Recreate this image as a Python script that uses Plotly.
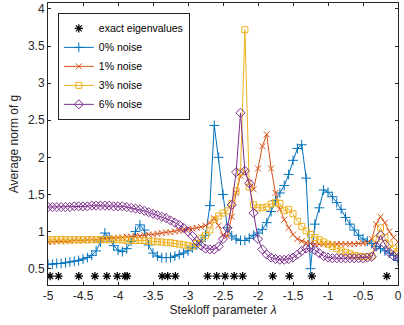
import numpy as np
import plotly.graph_objects as go

# Stekloff parameter grid
lam = np.linspace(-5, 0, 81)

noise0 = [0.56,0.56,0.57,0.57,0.58,0.59,0.60,0.61,0.63,0.65,
          0.68,0.74,0.86,0.98,0.92,0.81,0.75,0.73,0.77,0.87,
          1.00,1.09,1.02,0.82,0.71,0.67,0.65,0.65,0.65,0.67,
          0.69,0.71,0.74,0.78,0.82,0.87,0.95,1.35,2.43,2.00,
          1.50,1.05,0.94,0.90,0.88,0.88,0.91,0.95,0.98,1.03,
          1.12,1.27,1.42,1.52,1.62,1.77,1.96,2.12,2.17,1.72,
          0.50,1.10,1.32,1.56,1.53,1.47,1.39,1.30,1.19,1.10,
          1.02,0.95,0.90,0.87,0.84,0.80,0.77,0.74,0.71,0.68,
          0.61]

noise1 = [0.86,0.86,0.87,0.87,0.87,0.87,0.88,0.88,0.88,0.89,
          0.89,0.89,0.90,0.90,0.91,0.91,0.92,0.92,0.93,0.93,
          0.94,0.94,0.95,0.96,0.96,0.97,0.98,0.99,0.99,1.00,
          1.01,1.02,1.03,1.04,1.05,1.06,1.08,1.12,1.18,1.08,
          0.95,0.94,1.20,1.52,1.75,1.80,1.66,1.57,1.85,2.15,
          2.31,1.85,1.52,1.30,1.16,1.05,0.96,0.90,0.87,0.85,
          0.84,0.83,0.83,0.83,0.83,0.83,0.83,0.83,0.83,0.83,
          0.83,0.84,0.84,0.85,0.90,1.10,1.20,1.12,1.00,0.92,
          0.86]

noise3 = [0.89,0.89,0.89,0.89,0.89,0.89,0.89,0.89,0.89,0.89,
          0.89,0.89,0.89,0.89,0.89,0.89,0.89,0.89,0.88,0.88,
          0.88,0.88,0.88,0.87,0.87,0.86,0.86,0.85,0.85,0.84,
          0.83,0.82,0.81,0.80,0.84,0.91,0.95,1.02,1.16,1.21,
          1.25,1.28,1.38,1.55,1.80,3.72,1.60,1.36,1.32,1.32,
          1.33,1.37,1.39,1.38,1.28,1.30,1.24,1.14,1.07,1.01,
          0.96,0.92,0.89,0.86,0.83,0.80,0.77,0.74,0.72,0.70,
          0.68,0.67,0.66,0.66,0.67,0.90,1.05,0.92,0.83,0.77,
          0.73]

noise6 = [1.33,1.33,1.33,1.33,1.33,1.33,1.34,1.34,1.34,1.34,
          1.35,1.35,1.35,1.35,1.35,1.34,1.34,1.34,1.33,1.32,
          1.31,1.30,1.28,1.26,1.24,1.22,1.20,1.18,1.15,1.12,
          1.09,1.05,1.00,0.94,0.87,0.81,0.77,0.76,0.76,0.80,
          0.90,1.05,1.36,1.80,2.60,1.82,1.65,1.25,0.90,0.76,
          0.69,0.65,0.63,0.62,0.62,0.63,0.65,0.69,0.74,0.77,
          0.78,0.75,0.71,0.67,0.65,0.64,0.64,0.64,0.64,0.64,
          0.64,0.64,0.64,0.65,0.66,0.80,0.95,0.83,0.72,0.67,
          0.65]

exact_eigs = [-4.97, -4.85, -4.56, -4.33, -4.16, -4.01, -3.90, -3.87,
              -3.37, -3.29, -3.18, -2.72, -2.59, -2.47, -2.34, -2.22,
              -1.79, -1.55, -1.23, -0.16]
eig_level = [0.4] * len(exact_eigs)

x_ticks = [-5, -4.5, -4, -3.5, -3, -2.5, -2, -1.5, -1, -0.5, 0]
x_ticktext = ["-5", "-4.5", "-4", "-3.5", "-3", "-2.5", "-2", "-1.5", "-1", "-0.5", "0"]
y_ticks = [0.5, 1, 1.5, 2, 2.5, 3, 3.5, 4]
y_ticktext = ["0.5", "1", "1.5", "2", "2.5", "3", "3.5", "4"]

FONT = "Liberation Sans, Arial, Helvetica, sans-serif"
AX = "#262626"

fig = go.Figure()
fig.add_trace(go.Scatter(
    x=exact_eigs, y=eig_level, mode="markers", name="exact eigenvalues",
    marker=dict(symbol="asterisk-open", size=7, color="black",
                line=dict(color="black", width=1.3))))

series = [
    ("0% noise", noise0, "#0072BD", "cross-thin-open", 7),
    ("1% noise", noise1, "#D95319", "x-thin-open", 6),
    ("3% noise", noise3, "#EDB120", "square-open", 6),
    ("6% noise", noise6, "#7E2F8E", "diamond-open", 7),
]
for name, vals, col, sym, sz in series:
    fig.add_trace(go.Scatter(
        x=lam, y=vals, mode="lines+markers", name=name,
        line=dict(color=col, width=1),
        marker=dict(symbol=sym, size=sz, color=col, line=dict(color=col, width=1))))

fig.update_layout(
    width=404, height=325,
    margin=dict(l=48, r=2, t=3, b=40),
    paper_bgcolor="white", plot_bgcolor="white",
    font=dict(family=FONT, size=12, color=AX),
    showlegend=True,
    legend=dict(x=0.028, y=0.965, xanchor="left", yanchor="top",
                bgcolor="white", bordercolor=AX, borderwidth=1,
                font=dict(size=10.5, color="black"),
                tracegroupgap=0),
    xaxis=dict(range=[-5, 0], tickvals=x_ticks, ticktext=x_ticktext,
               ticks="inside", ticklen=3, tickcolor=AX, showline=True,
               linecolor=AX, linewidth=1, mirror="ticks", showgrid=False,
               zeroline=False, tickfont=dict(size=12, color=AX),
               ticklabeloverflow="allow",
               title=dict(text="Stekloff parameter <i>λ</i>", standoff=3,
                          font=dict(size=12, color=AX))),
    yaxis=dict(range=[0.28, 4.08], tickvals=y_ticks, ticktext=y_ticktext,
               ticks="inside", ticklen=3, tickcolor=AX, showline=True,
               linecolor=AX, linewidth=1, mirror="ticks", showgrid=False,
               zeroline=False, tickfont=dict(size=12, color=AX),
               ticklabeloverflow="allow",
               title=dict(text="Average norm of g", standoff=6,
                          font=dict(size=12, color=AX))),
)

fig.write_html("out.html")
